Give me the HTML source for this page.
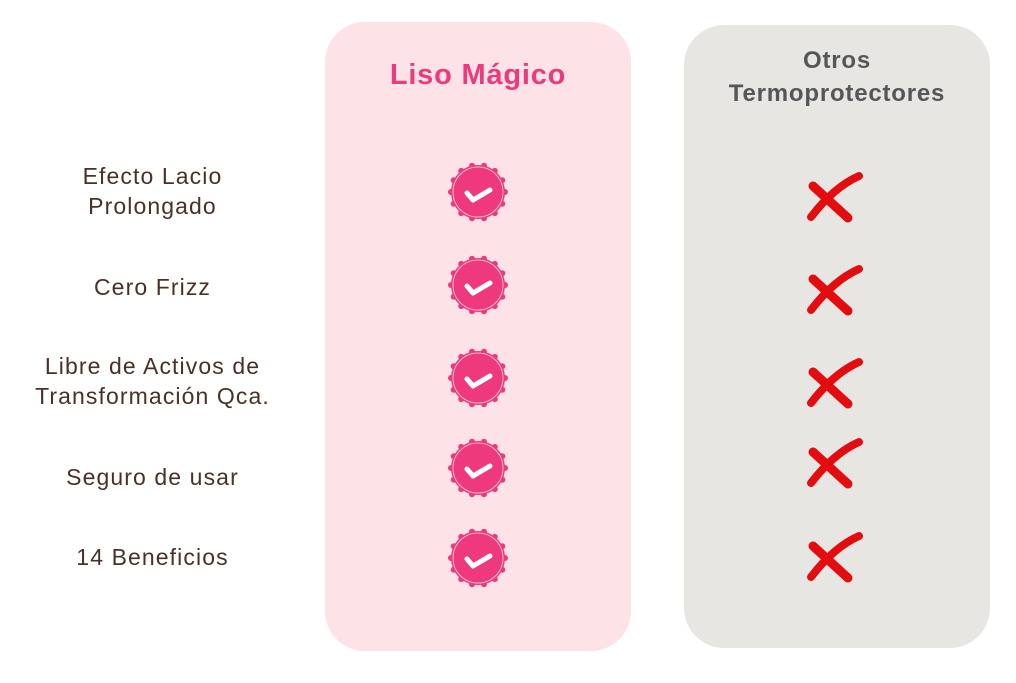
<!DOCTYPE html>
<html><head><meta charset="utf-8"><style>
body{margin:0;width:1016px;height:683px;background:#fff;position:relative;overflow:hidden;font-family:"Liberation Sans",sans-serif}
.p{position:absolute;border-radius:40px}
.l{position:absolute;left:0;width:305px;text-align:center;color:#4a3128;font-size:23px;line-height:30px;letter-spacing:1.1px}
</style></head><body>
<div class="p" style="left:325px;top:22px;width:306px;height:629px;background:#fde3e7"></div>
<div class="p" style="left:684px;top:25px;width:306px;height:623px;background:#e8e6e2"></div>
<div style="position:absolute;left:325px;width:306px;top:59px;text-align:center;color:#ee3a7c;font-weight:bold;font-size:29px;letter-spacing:0.8px">Liso Mágico</div>
<div style="position:absolute;left:684px;width:306px;top:44px;text-align:center;color:#555657;font-weight:bold;font-size:24px;line-height:33px;letter-spacing:0.8px">Otros<br>Termoprotectores</div>
<div class="l" style="top:161px">Efecto Lacio<br>Prolongado</div>
<div class="l" style="top:272px">Cero Frizz</div>
<div class="l" style="top:351px">Libre de Activos de<br>Transformación Qca.</div>
<div class="l" style="top:462px">Seguro de usar</div>
<div class="l" style="top:542px">14 Beneficios</div>
<svg width="1016" height="683" style="position:absolute;left:0;top:0">
<defs>
<g id="b">
<circle r="27" fill="#ee3a7c"/>
<g fill="#ee3a7c">
<circle cx="27" cy="0" r="3"/><circle cx="24.3" cy="11.7" r="3"/><circle cx="16.8" cy="21.1" r="3"/><circle cx="6" cy="26.3" r="3"/><circle cx="-6" cy="26.3" r="3"/><circle cx="-16.8" cy="21.1" r="3"/><circle cx="-24.3" cy="11.7" r="3"/><circle cx="-27" cy="0" r="3"/><circle cx="-24.3" cy="-11.7" r="3"/><circle cx="-16.8" cy="-21.1" r="3"/><circle cx="-6" cy="-26.3" r="3"/><circle cx="6" cy="-26.3" r="3"/><circle cx="16.8" cy="-21.1" r="3"/><circle cx="24.3" cy="-11.7" r="3"/>
</g>
<circle r="25" fill="none" stroke="#fff" stroke-width="0.8" opacity="0.8"/>
<path d="M-11,1 L-5,8 L12,-2" fill="none" stroke="#fff" stroke-width="5" stroke-linecap="round" stroke-linejoin="round"/>
</g>
<g id="x" fill="none" stroke="#e30d10" stroke-linecap="round">
<path d="M-21,-11 L14,21" stroke-width="9"/>
<path d="M25,-21 Q0,-10 -23,20" stroke-width="8"/>
</g>
</defs>
<use href="#b" x="478" y="192"/><use href="#b" x="478" y="285"/><use href="#b" x="478" y="378"/><use href="#b" x="478" y="468"/><use href="#b" x="478" y="558"/>
<use href="#x" x="834" y="197"/><use href="#x" x="834" y="290"/><use href="#x" x="834" y="383"/><use href="#x" x="834" y="463"/><use href="#x" x="834" y="557"/>
</svg>
</body></html>
